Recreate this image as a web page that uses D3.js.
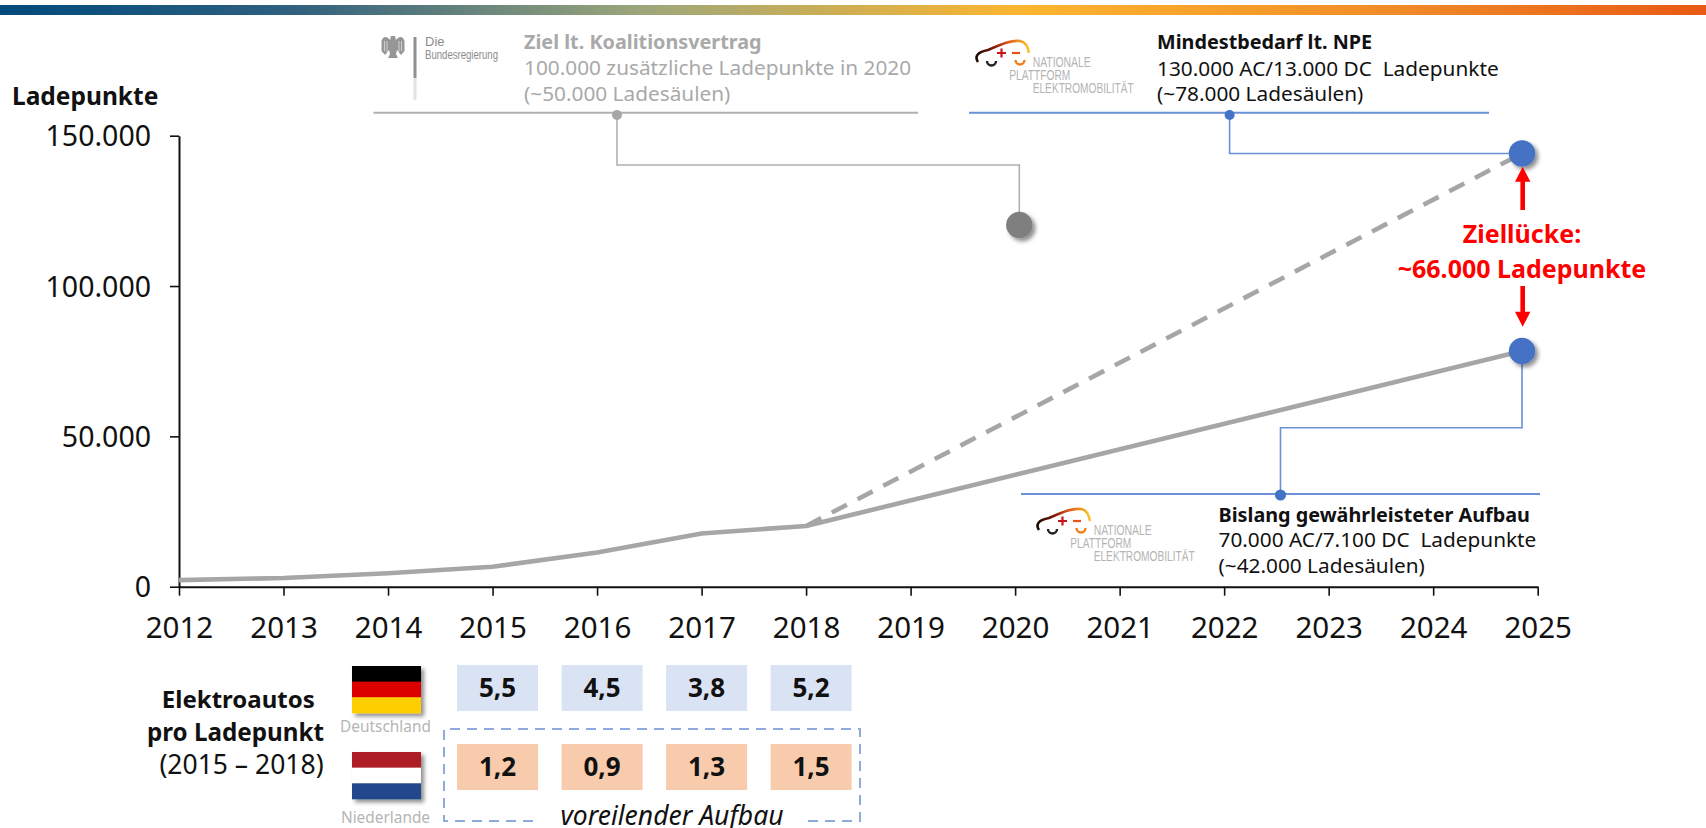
<!DOCTYPE html>
<html lang="de">
<head>
<meta charset="utf-8">
<title>Ladepunkte</title>
<script src="https://cdn.jsdelivr.net/npm/d3@7"></script>
<style>
  body { margin: 0; background: #fff; }
  svg { display: block; font-family: "Noto Sans", sans-serif; }
</style>
</head>
<body>
<script>
// Werte
const jahre = [2012, 2013, 2014, 2015, 2016, 2017, 2018]
const bestand = [2200, 2900, 4450, 6650, 11400, 17700, 20200]
const endJahr = 2024.85
const endNpe = 78400
const endZiel = 144100
const koalitionJahr = 2020.04
const koalitionWert = 120300
const xTicks = [2012, 2013, 2014, 2015, 2016, 2017, 2018, 2019, 2020, 2021, 2022, 2023, 2024, 2025]
const yTicks = [0, 50000, 100000, 150000]
const tabellenJahre = [2015, 2016, 2017, 2018]
const deutschland = [5.5, 4.5, 3.8, 5.2]
const niederlande = [1.2, 0.9, 1.3, 1.5]

const width = 1706, height = 828
const de = d3.formatLocale({ decimal: ',', thousands: '.', grouping: [3], currency: ['', '€'] })

const x = d3.scaleLinear([2012, 2025], [179, 1537.7])
const y = d3.scaleLinear([0, 150000], [586.7, 135.7])

const svg = d3.select('body').append('svg')
    .attr('width', width)
    .attr('height', height)
    .attr('viewBox', [0, 0, width, height])

const defs = svg.append('defs')

const schatten = defs.append('filter').attr('id', 'schatten')
    .attr('x', '-40%').attr('y', '-40%').attr('width', '190%').attr('height', '190%')
schatten.append('feDropShadow')
    .attr('dx', 3).attr('dy', 3).attr('stdDeviation', 2.2)
    .attr('flood-color', '#000').attr('flood-opacity', 0.45)

const balken = defs.append('linearGradient').attr('id', 'balken')
const balkenFarben = [[0, '#004a7c'], [0.17, '#2f607f'], [0.38, '#9ea77a'], [0.6, '#fcb52f'], [0.82, '#f08b28'], [1, '#e85a14']]
balken.selectAll('stop').data(balkenFarben).join('stop')
    .attr('offset', d => d[0])
    .attr('stop-color', d => d[1])

const bogen = defs.append('linearGradient').attr('id', 'bogen')
const bogenFarben = [[0, '#1a0a00'], [0.35, '#8e1a0c'], [0.6, '#e2581a'], [1, '#fbc62c']]
bogen.selectAll('stop').data(bogenFarben).join('stop')
    .attr('offset', d => d[0])
    .attr('stop-color', d => d[1])

svg.append('rect')
    .attr('x', 0).attr('y', 5)
    .attr('width', width).attr('height', 10)
    .attr('fill', 'url(#balken)')

// Achsen
const xAxis = svg.append('g')
    .attr('transform', `translate(0,${y(0)})`)
    .call(d3.axisBottom(x).tickValues(xTicks).tickFormat(d3.format('d')).tickSize(9).tickPadding(21).tickSizeOuter(0))

const yAxis = svg.append('g')
    .attr('transform', `translate(${x(2012)},0)`)
    .call(d3.axisLeft(y).tickValues(yTicks).tickFormat(de.format(',')).tickSize(9).tickPadding(19).tickSizeOuter(0))

for (const a of [xAxis, yAxis]) {
    a.selectAll('text').attr('font-size', 28.5).attr('font-family', '"Noto Sans", sans-serif').attr('fill', '#111')
    a.selectAll('line').attr('stroke', '#111').attr('stroke-width', 1.6)
    a.select('.domain').attr('stroke', '#111').attr('stroke-width', 2)
}
xAxis.selectAll('text').attr('font-size', 29.5)
yAxis.selectAll('text').attr('dy', '0.36em')

svg.append('text')
    .attr('x', 12).attr('y', 105)
    .attr('font-size', 24.5).attr('font-weight', 700).attr('fill', '#111')
    .text('Ladepunkte')

// Linien
const line = d3.line().x(d => x(d[0])).y(d => y(d[1]))
const bestandPunkte = d3.zip(jahre, bestand)
const letzter = bestandPunkte[bestandPunkte.length - 1]

svg.append('path')
    .datum([letzter, [endJahr, endZiel]])
    .attr('d', line)
    .attr('fill', 'none')
    .attr('stroke', '#a6a6a6')
    .attr('stroke-width', 4.6)
    .attr('stroke-dasharray', '17 12')

svg.append('path')
    .datum([...bestandPunkte, [endJahr, endNpe]])
    .attr('d', line)
    .attr('fill', 'none')
    .attr('stroke', '#a6a6a6')
    .attr('stroke-width', 4.6)
    .attr('stroke-linejoin', 'round')

// Anmerkungen: waagerechte Linie, Verbindung zum Punkt
function leader(farbe, x1, x2, yLinie, xAnker, yKnick, xPunkt, yPunkt) {
    const g = svg.append('g').attr('fill', 'none').attr('stroke', farbe)
    g.append('line')
        .attr('x1', x1).attr('x2', x2)
        .attr('y1', yLinie).attr('y2', yLinie)
        .attr('stroke-width', 2)
    g.append('path')
        .attr('d', `M${xAnker},${yLinie + 2}V${yKnick}H${xPunkt}V${yPunkt}`)
        .attr('stroke-width', 1.6)
    return g
}

leader('#b0b0b0', 373.5, 918, 112.7, 617, 165, x(koalitionJahr), y(koalitionWert))
svg.append('circle').attr('cx', 617).attr('cy', 115).attr('r', 5).attr('fill', '#a6a6a6')

leader('#6a90d6', 969, 1489, 112.7, 1229.6, y(endZiel), x(endJahr), y(endZiel))
svg.append('circle').attr('cx', 1229.6).attr('cy', 115).attr('r', 5).attr('fill', '#4472c4')

leader('#6a90d6', 1021, 1540, 494, 1280.5, 427.7, x(endJahr), y(endNpe))
svg.append('circle').attr('cx', 1280.5).attr('cy', 495).attr('r', 5.6).attr('fill', '#4472c4')

// Punkte
const punkte = [[koalitionJahr, koalitionWert, '#7f7f7f'], [endJahr, endZiel, '#4472c4'], [endJahr, endNpe, '#4472c4']]
svg.append('g').selectAll('circle').data(punkte).join('circle')
    .attr('cx', d => x(d[0]))
    .attr('cy', d => y(d[1]))
    .attr('r', 13.2)
    .attr('fill', d => d[2])
    .attr('filter', 'url(#schatten)')

// Textblöcke
function block(xPos, zeilen, farbe) {
    svg.append('g').attr('fill', farbe).selectAll('text').data(zeilen).join('text')
        .attr('x', xPos)
        .attr('y', d => d.y)
        .attr('font-size', d => d.bold ? 19.8 : 20.8)
        .attr('font-weight', d => d.bold ? 700 : 400)
        .style('white-space', 'pre')
        .text(d => d.t)
}

block(524, [
    { t: 'Ziel lt. Koalitionsvertrag', y: 49, bold: true },
    { t: '100.000 zusätzliche Ladepunkte in 2020', y: 74.5 },
    { t: '(~50.000 Ladesäulen)', y: 100.5 }
], '#a9a9a9')

block(1157, [
    { t: 'Mindestbedarf lt. NPE', y: 49, bold: true },
    { t: '130.000 AC/13.000 DC  Ladepunkte', y: 75.5 },
    { t: '(~78.000 Ladesäulen)', y: 100.5 }
], '#111')

block(1218.5, [
    { t: 'Bislang gewährleisteter Aufbau', y: 521.7, bold: true },
    { t: '70.000 AC/7.100 DC  Ladepunkte', y: 546.7 },
    { t: '(~42.000 Ladesäulen)', y: 572.7 }
], '#111')

// Ziellücke
const rot = '#ff0000'
const ziel = svg.append('g').attr('fill', rot).attr('text-anchor', 'middle').attr('font-weight', 700).attr('font-size', 25)
ziel.append('text').attr('x', 1522).attr('y', 243).text('Ziellücke:')
ziel.append('text').attr('x', 1522).attr('y', 278).text('~66.000 Ladepunkte')

function pfeil(xPos, y1, y2) {
    const s = y2 > y1 ? 1 : -1
    svg.append('path')
        .attr('d', `M${xPos - 2.3},${y1}H${xPos + 2.3}V${y2 - s * 15}H${xPos + 7.7}L${xPos},${y2}L${xPos - 7.7},${y2 - s * 15}H${xPos - 2.3}Z`)
        .attr('fill', rot)
}
pfeil(1522.7, 210, 166.7)
pfeil(1522.7, 286, 326.7)

// Logos
function npeLogo(dx, dy) {
    const g = svg.append('g').attr('transform', `translate(${dx},${dy})`)
    g.append('path')
        .attr('d', 'M18,32C14,26 18,22 28,20C44,13 52,10 60,11C66,12 68,17 69,23')
        .attr('fill', 'none').attr('stroke', 'url(#bogen)').attr('stroke-width', 2.6)
    g.append('path').attr('d', 'M27,31A4.5,4.5 0 0 0 36,31')
        .attr('fill', 'none').attr('stroke', '#222').attr('stroke-width', 2.4)
    g.append('path').attr('d', 'M55.5,30A4.5,4.5 0 0 0 64.5,30')
        .attr('fill', 'none').attr('stroke', '#ee7f1a').attr('stroke-width', 2.4)
    g.append('path').attr('d', 'M37,23H46M41.5,18.5V27.5')
        .attr('fill', 'none').attr('stroke', '#c8151b').attr('stroke-width', 2.2)
    g.append('path').attr('d', 'M52,23H60')
        .attr('fill', 'none').attr('stroke', '#e8541a').attr('stroke-width', 2.2)
    const zeilen = [['NATIONALE', 72.7, 36.7, 58], ['PLATTFORM', 49.3, 50, 61], ['ELEKTROMOBILITÄT', 72.7, 62.7, 101]]
    g.selectAll('text').data(zeilen).join('text')
        .attr('x', d => d[1]).attr('y', d => d[2])
        .attr('textLength', d => d[3])
        .attr('lengthAdjust', 'spacingAndGlyphs')
        .attr('font-family', '"Liberation Sans Narrow", "Liberation Sans", sans-serif')
        .attr('font-size', 14)
        .attr('fill', '#b4b4b4')
        .text(d => d[0])
}
npeLogo(960, 30)
npeLogo(1021, 498)

// Adler als dichter grauer Umriss
const adler = svg.append('g').attr('transform', 'translate(393,47)')
adler.append('path')
    .attr('d', 'M-2,-11H2L3,-7C6,-11 10,-11 11.5,-6V4L8,8L4,3L3,7L5,11H-5L-3,7L-4,3L-8,8L-11.5,4V-6C-10,-11 -6,-11 -3,-7Z')
    .attr('fill', '#969696')
adler.append('path')
    .attr('d', 'M-8.5,-6V4M-6,-6V5M6,-6V5M8.5,-6V4')
    .attr('fill', 'none').attr('stroke', '#d8d8d8').attr('stroke-width', 0.9)

svg.append('rect').attr('x', 413.5).attr('y', 37).attr('width', 3).attr('height', 41).attr('fill', '#909090')
svg.append('rect').attr('x', 413.5).attr('y', 78).attr('width', 3).attr('height', 22).attr('fill', '#e2e2e2')

const bund = svg.append('g').attr('font-family', '"Liberation Sans Narrow", "Liberation Sans", sans-serif')
    .attr('font-size', 13).attr('fill', '#8c8c8c')
bund.append('text').attr('x', 425).attr('y', 45.7).text('Die')
bund.append('text').attr('x', 425).attr('y', 58.5).attr('textLength', 73).attr('lengthAdjust', 'spacingAndGlyphs').text('Bundesregierung')

// Tabelle Elektroautos pro Ladepunkt
const titel = svg.append('g').attr('text-anchor', 'middle').attr('fill', '#111')
titel.append('text').attr('x', 238.3).attr('y', 708).attr('font-size', 24).attr('font-weight', 700).text('Elektroautos')
titel.append('text').attr('x', 235.5).attr('y', 741).attr('font-size', 24.2).attr('font-weight', 700).text('pro Ladepunkt')
titel.append('text').attr('x', 241.5).attr('y', 773.5).attr('font-size', 26.5).text('(2015 – 2018)')

const zeilen = [
    { werte: deutschland, farbe: '#dae3f3', y0: 665, y1: 711 },
    { werte: niederlande, farbe: '#f8cbad', y0: 744, y1: 790 }
]
const zelle = 81
for (const z of zeilen) {
    const g = svg.append('g').selectAll('g').data(d3.zip(tabellenJahre, z.werte)).join('g')
    g.append('rect')
        .attr('x', d => x(d[0]) + 5 - zelle / 2)
        .attr('y', z.y0)
        .attr('width', zelle)
        .attr('height', z.y1 - z.y0)
        .attr('fill', z.farbe)
    g.append('text')
        .attr('x', d => x(d[0]) + 5)
        .attr('y', (z.y0 + z.y1) / 2 + 9)
        .attr('text-anchor', 'middle')
        .attr('font-size', 26)
        .attr('font-weight', 700)
        .attr('fill', '#111')
        .text(d => de.format('.1f')(d[1]))
}

// Flaggen
function flagge(yPos, farben, name, yName) {
    const g = svg.append('g').attr('filter', 'url(#schatten)')
    g.selectAll('rect').data(farben).join('rect')
        .attr('x', 352)
        .attr('y', (d, i) => yPos + i * 47 / 3)
        .attr('width', 69)
        .attr('height', 47 / 3 + 0.3)
        .attr('fill', d => d)
    svg.append('text')
        .attr('x', 385.5).attr('y', yName)
        .attr('text-anchor', 'middle')
        .attr('font-size', 15.4)
        .attr('fill', '#b5b5b5')
        .text(name)
}
flagge(666, ['#000000', '#dd0000', '#ffce00'], 'Deutschland', 731.7)
flagge(752, ['#ae1c28', '#ffffff', '#21468b'], 'Niederlande', 822.7)

// gestrichelter Rahmen
svg.append('path')
    .attr('d', 'M533,821H444V729H860V821H806')
    .attr('fill', 'none')
    .attr('stroke', '#8faadc')
    .attr('stroke-width', 2)
    .attr('stroke-dasharray', '10 7')

svg.append('text')
    .attr('x', 672).attr('y', 825)
    .attr('text-anchor', 'middle')
    .attr('font-size', 26.5)
    .attr('font-style', 'italic')
    .attr('fill', '#111')
    .text('voreilender Aufbau')
</script>
</body>
</html>
